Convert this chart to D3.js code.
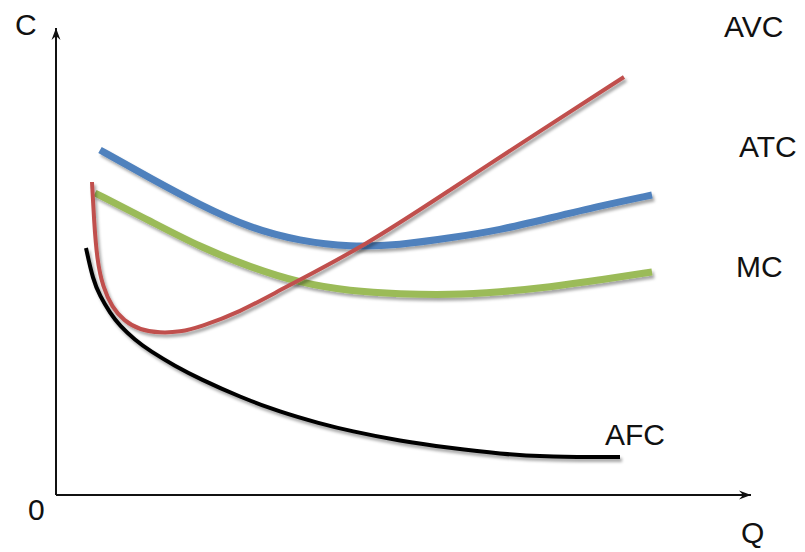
<!DOCTYPE html>
<html>
<head>
<meta charset="utf-8">
<script src="https://cdn.jsdelivr.net/npm/d3@7"></script>
<style>
  html, body { margin: 0; padding: 0; background: #fff; }
  svg { display: block; }
  text { font-family: "Liberation Sans", Arial, sans-serif; fill: #111; }
</style>
</head>
<body>
<svg id="chart" width="805" height="552"></svg>
<script>
// ---- data (Q, C) in chart units ----
const blueCurve = [
  [8.8, 69], [18.8, 63.4], [28.8, 58], [38.8, 53.4], [48.8, 50.8], [58.8, 49.6],
  [68.8, 50], [78.8, 51.4], [88.8, 53], [98.8, 55.4], [108.8, 57.8], [119.2, 60]
];
const greenCurve = [
  [7.8, 60.4], [18.8, 54.8], [28.8, 49.6], [38.8, 45.6], [48.8, 42.4], [58.8, 40.8],
  [68.8, 40.2], [78.8, 40], [88.8, 40.6], [98.8, 41.6], [108.8, 43], [119.2, 44.6]
];
const redCurve = [
  [7.2, 62.6], [7.6, 55], [8.2, 47], [9.4, 41.5], [11.2, 37.6], [13.6, 34.8],
  [16.8, 33], [20.8, 32.4], [24.8, 32.6], [28.8, 33.6], [36.8, 36.6], [44.8, 41],
  [61.8, 49.8], [78.8, 61], [96.8, 72.8], [113.6, 83.6]
];
const blackCurve = [
  [6, 49.4], [7.4, 43], [8.8, 39.8], [10.8, 36.4], [12.8, 33.8], [15.8, 31],
  [18.8, 28.8], [23.8, 25.8], [28.8, 23.2], [36.8, 19.6], [44.8, 16.6],
  [52.8, 14.3], [58.8, 12.8], [68.8, 10.8], [78.8, 9.4], [88.8, 8.2],
  [98.8, 7.6], [112.8, 7.6]
];
const curveLabels = ["AVC", "ATC", "MC", "AFC"];
const labelPos = [[133.6, 91.6], [136.6, 67.6], [136, 43.6], [109.8, 10]];
const axisLabels = ["C", "0", "Q"];
const axisLabelPos = [[-8.2, 92], [-5.6, -5], [137, -9.6]];
const axisMax = [139, 93.4];

// ---- scales ----
const x = d3.scaleLinear().domain([0, 140]).range([56, 756]);
const y = d3.scaleLinear().domain([0, 93]).range([495, 30]);

const svg = d3.select("#chart");
const defs = svg.append("defs");

const f = defs.append("filter").attr("id", "shadow")
  .attr("x", "-10%").attr("y", "-10%").attr("width", "130%").attr("height", "130%");
f.append("feDropShadow").attr("dx", 2).attr("dy", 3).attr("stdDeviation", 1.8)
  .attr("flood-color", "#000").attr("flood-opacity", 0.35);

defs.append("marker").attr("id", "arrow")
  .attr("viewBox", "-12 -5 13 10").attr("refX", 0).attr("refY", 0)
  .attr("markerWidth", 13).attr("markerHeight", 10)
  .attr("markerUnits", "userSpaceOnUse").attr("orient", "auto")
  .append("path").attr("d", "M0,0 L-12,-4.5 L-8,0 L-12,4.5 Z").attr("fill", "#111");

// ---- axes ----
svg.append("line")
  .attr("x1", x(0)).attr("y1", y(0)).attr("x2", x(0)).attr("y2", y(axisMax[1]))
  .attr("stroke", "#111").attr("stroke-width", 2).attr("marker-end", "url(#arrow)");
svg.append("line")
  .attr("x1", x(0)).attr("y1", y(0)).attr("x2", x(axisMax[0])).attr("y2", y(0))
  .attr("stroke", "#111").attr("stroke-width", 2).attr("marker-end", "url(#arrow)");

// ---- curves ----
const line = d3.line().x(d => x(d[0])).y(d => y(d[1])).curve(d3.curveBasis);
const series = [
  { data: blueCurve, color: "#4f81bd", w: 7 },
  { data: greenCurve, color: "#9bbb59", w: 7 },
  { data: blackCurve, color: "#000000", w: 4 },
  { data: redCurve, color: "#c0504d", w: 4 }
];
series.forEach(s => {
  svg.append("path").datum(s.data).attr("d", line)
    .attr("fill", "none").attr("stroke", s.color).attr("stroke-width", s.w)
    .attr("stroke-linecap", "butt").attr("stroke-linejoin", "round")
    .attr("filter", "url(#shadow)");
});

// ---- labels ----
curveLabels.forEach((t, i) => {
  svg.append("text").attr("x", x(labelPos[i][0])).attr("y", y(labelPos[i][1]))
    .attr("font-size", 30).text(t);
});
axisLabels.forEach((t, i) => {
  svg.append("text").attr("x", x(axisLabelPos[i][0])).attr("y", y(axisLabelPos[i][1]))
    .attr("font-size", 30).text(t);
});
</script>
</body>
</html>
